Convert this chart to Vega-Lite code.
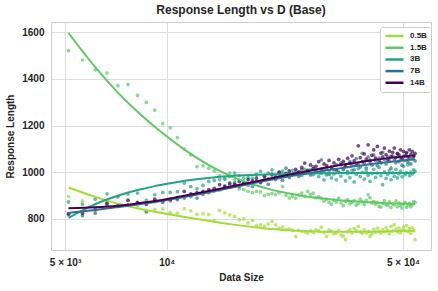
{
"$schema": "https://vega.github.io/schema/vega-lite/v6.json",
"width": 380, "height": 228,
"autosize": {"type": "none"},
"padding": {"left": 51, "top": 22, "right": 7, "bottom": 41},
"background": "white",
"title": {"text": "Response Length vs D (Base)", "fontSize": 12, "fontWeight": "bold", "font": "Liberation Sans", "color": "#262626", "offset": 5, "anchor": "middle", "frame": "group"},
"config": {
  "view": {"stroke": "#cccccc", "strokeWidth": 1},
  "font": "Liberation Sans",
  "axis": {"grid": true, "gridColor": "#dddddd", "gridWidth": 1, "domain": false, "ticks": false, "labelFont": "Liberation Sans", "labelFontSize": 10, "labelFontWeight": "bold", "labelColor": "#262626", "titleFont": "Liberation Sans", "titleFontSize": 10, "titleFontWeight": "bold", "titleColor": "#262626"}
},
"datasets": {
"pts": [
{"m":"0.5B","x":5120,"y":896},{"m":"0.5B","x":5632,"y":877},{"m":"0.5B","x":6144,"y":862},{"m":"0.5B","x":6656,"y":870},{"m":"0.5B","x":7168,"y":893},{"m":"0.5B","x":7680,"y":881},{"m":"0.5B","x":8192,"y":850},{"m":"0.5B","x":8704,"y":827},{"m":"0.5B","x":9216,"y":839},{"m":"0.5B","x":9728,"y":842},
{"m":"0.5B","x":10240,"y":827},{"m":"0.5B","x":10752,"y":824},{"m":"0.5B","x":11264,"y":843},{"m":"0.5B","x":11776,"y":834},{"m":"0.5B","x":12288,"y":819},{"m":"0.5B","x":12800,"y":822},{"m":"0.5B","x":13312,"y":818},{"m":"0.5B","x":13824,"y":793},{"m":"0.5B","x":14336,"y":836},{"m":"0.5B","x":14848,"y":825},
{"m":"0.5B","x":15360,"y":817},{"m":"0.5B","x":15872,"y":810},{"m":"0.5B","x":16384,"y":796},{"m":"0.5B","x":16896,"y":799},{"m":"0.5B","x":17408,"y":782},{"m":"0.5B","x":17920,"y":793},{"m":"0.5B","x":18432,"y":771},{"m":"0.5B","x":18944,"y":774},{"m":"0.5B","x":19456,"y":767},{"m":"0.5B","x":19968,"y":778},
{"m":"0.5B","x":20480,"y":788},{"m":"0.5B","x":20992,"y":774},{"m":"0.5B","x":21504,"y":760},{"m":"0.5B","x":22016,"y":765},{"m":"0.5B","x":22528,"y":753},{"m":"0.5B","x":23040,"y":756},{"m":"0.5B","x":23552,"y":750},{"m":"0.5B","x":24064,"y":724},{"m":"0.5B","x":24576,"y":750},{"m":"0.5B","x":25088,"y":746},
{"m":"0.5B","x":25600,"y":744},{"m":"0.5B","x":26112,"y":739},{"m":"0.5B","x":26624,"y":748},{"m":"0.5B","x":27136,"y":741},{"m":"0.5B","x":27648,"y":753},{"m":"0.5B","x":28160,"y":749},{"m":"0.5B","x":28672,"y":764},{"m":"0.5B","x":29184,"y":742},{"m":"0.5B","x":29696,"y":724},{"m":"0.5B","x":30208,"y":752},
{"m":"0.5B","x":30720,"y":746},{"m":"0.5B","x":31232,"y":735},{"m":"0.5B","x":31744,"y":739},{"m":"0.5B","x":32256,"y":750},{"m":"0.5B","x":32768,"y":731},{"m":"0.5B","x":33280,"y":724},{"m":"0.5B","x":33792,"y":710},{"m":"0.5B","x":34304,"y":745},{"m":"0.5B","x":34816,"y":753},{"m":"0.5B","x":35328,"y":740},
{"m":"0.5B","x":35840,"y":758},{"m":"0.5B","x":36352,"y":748},{"m":"0.5B","x":36864,"y":767},{"m":"0.5B","x":37376,"y":744},{"m":"0.5B","x":37888,"y":738},{"m":"0.5B","x":38400,"y":752},{"m":"0.5B","x":38912,"y":739},{"m":"0.5B","x":39424,"y":746},{"m":"0.5B","x":39936,"y":724},{"m":"0.5B","x":40448,"y":735},
{"m":"0.5B","x":40960,"y":755},{"m":"0.5B","x":41472,"y":742},{"m":"0.5B","x":41984,"y":760},{"m":"0.5B","x":42496,"y":747},{"m":"0.5B","x":43008,"y":739},{"m":"0.5B","x":43520,"y":753},{"m":"0.5B","x":44032,"y":744},{"m":"0.5B","x":44544,"y":762},{"m":"0.5B","x":45056,"y":750},{"m":"0.5B","x":45568,"y":736},
{"m":"0.5B","x":46080,"y":767},{"m":"0.5B","x":46592,"y":748},{"m":"0.5B","x":47104,"y":774},{"m":"0.5B","x":47616,"y":756},{"m":"0.5B","x":48128,"y":745},{"m":"0.5B","x":48640,"y":760},{"m":"0.5B","x":49152,"y":740},{"m":"0.5B","x":49664,"y":752},{"m":"0.5B","x":50176,"y":764},{"m":"0.5B","x":50688,"y":749},
{"m":"0.5B","x":51200,"y":771},{"m":"0.5B","x":51712,"y":745},{"m":"0.5B","x":52224,"y":758},{"m":"0.5B","x":52736,"y":738},{"m":"0.5B","x":53248,"y":762},{"m":"0.5B","x":53760,"y":750},{"m":"0.5B","x":54272,"y":710},

{"m":"1.5B","x":5120,"y":1521},{"m":"1.5B","x":5632,"y":1481},{"m":"1.5B","x":6144,"y":1439},{"m":"1.5B","x":6656,"y":1425},{"m":"1.5B","x":7168,"y":1371},{"m":"1.5B","x":7680,"y":1376},{"m":"1.5B","x":8192,"y":1329},{"m":"1.5B","x":8704,"y":1300},{"m":"1.5B","x":9216,"y":1266},{"m":"1.5B","x":9728,"y":1208},
{"m":"1.5B","x":10240,"y":1190},{"m":"1.5B","x":10752,"y":1148},{"m":"1.5B","x":11264,"y":1099},{"m":"1.5B","x":11776,"y":1075},{"m":"1.5B","x":12288,"y":1024},{"m":"1.5B","x":12800,"y":1027},{"m":"1.5B","x":13312,"y":1017},{"m":"1.5B","x":13824,"y":1005},{"m":"1.5B","x":14336,"y":985},{"m":"1.5B","x":14848,"y":975},
{"m":"1.5B","x":15360,"y":996},{"m":"1.5B","x":15872,"y":965},{"m":"1.5B","x":16384,"y":928},{"m":"1.5B","x":16896,"y":925},{"m":"1.5B","x":17408,"y":918},{"m":"1.5B","x":17920,"y":912},{"m":"1.5B","x":18432,"y":917},{"m":"1.5B","x":18944,"y":915},{"m":"1.5B","x":19456,"y":899},{"m":"1.5B","x":19968,"y":905},
{"m":"1.5B","x":20480,"y":908},{"m":"1.5B","x":20992,"y":903},{"m":"1.5B","x":21504,"y":912},{"m":"1.5B","x":22016,"y":938},{"m":"1.5B","x":22528,"y":900},{"m":"1.5B","x":23040,"y":889},{"m":"1.5B","x":23552,"y":895},{"m":"1.5B","x":24064,"y":889},{"m":"1.5B","x":24576,"y":902},{"m":"1.5B","x":25088,"y":910},
{"m":"1.5B","x":25600,"y":897},{"m":"1.5B","x":26112,"y":917},{"m":"1.5B","x":26624,"y":905},{"m":"1.5B","x":27136,"y":910},{"m":"1.5B","x":27648,"y":890},{"m":"1.5B","x":28160,"y":895},{"m":"1.5B","x":28672,"y":889},{"m":"1.5B","x":29184,"y":876},{"m":"1.5B","x":29696,"y":884},{"m":"1.5B","x":30208,"y":870},
{"m":"1.5B","x":30720,"y":862},{"m":"1.5B","x":31232,"y":880},{"m":"1.5B","x":31744,"y":872},{"m":"1.5B","x":32256,"y":889},{"m":"1.5B","x":32768,"y":868},{"m":"1.5B","x":33280,"y":856},{"m":"1.5B","x":33792,"y":875},{"m":"1.5B","x":34304,"y":882},{"m":"1.5B","x":34816,"y":864},{"m":"1.5B","x":35328,"y":870},
{"m":"1.5B","x":35840,"y":878},{"m":"1.5B","x":36352,"y":858},{"m":"1.5B","x":36864,"y":866},{"m":"1.5B","x":37376,"y":884},{"m":"1.5B","x":37888,"y":872},{"m":"1.5B","x":38400,"y":861},{"m":"1.5B","x":38912,"y":879},{"m":"1.5B","x":39424,"y":903},{"m":"1.5B","x":39936,"y":890},{"m":"1.5B","x":40448,"y":868},
{"m":"1.5B","x":40960,"y":875},{"m":"1.5B","x":41472,"y":862},{"m":"1.5B","x":41984,"y":870},{"m":"1.5B","x":42496,"y":853},{"m":"1.5B","x":43008,"y":850},{"m":"1.5B","x":43520,"y":866},{"m":"1.5B","x":44032,"y":878},{"m":"1.5B","x":44544,"y":861},{"m":"1.5B","x":45056,"y":857},{"m":"1.5B","x":45568,"y":872},
{"m":"1.5B","x":46080,"y":848},{"m":"1.5B","x":46592,"y":864},{"m":"1.5B","x":47104,"y":860},{"m":"1.5B","x":47616,"y":877},{"m":"1.5B","x":48128,"y":852},{"m":"1.5B","x":48640,"y":868},{"m":"1.5B","x":49152,"y":856},{"m":"1.5B","x":49664,"y":846},{"m":"1.5B","x":50176,"y":862},{"m":"1.5B","x":50688,"y":870},
{"m":"1.5B","x":51200,"y":849},{"m":"1.5B","x":51712,"y":858},{"m":"1.5B","x":52224,"y":866},{"m":"1.5B","x":52736,"y":852},{"m":"1.5B","x":53248,"y":861},{"m":"1.5B","x":53760,"y":874},{"m":"1.5B","x":54272,"y":870},

{"m":"3B","x":5120,"y":872},{"m":"3B","x":5632,"y":863},{"m":"3B","x":6144,"y":884},{"m":"3B","x":6656,"y":907},{"m":"3B","x":7168,"y":896},{"m":"3B","x":7680,"y":906},{"m":"3B","x":8192,"y":910},{"m":"3B","x":8704,"y":880},{"m":"3B","x":9216,"y":903},{"m":"3B","x":9728,"y":913},
{"m":"3B","x":10240,"y":913},{"m":"3B","x":10752,"y":916},{"m":"3B","x":11264,"y":953},{"m":"3B","x":11776,"y":938},{"m":"3B","x":12288,"y":929},{"m":"3B","x":12800,"y":943},{"m":"3B","x":13312,"y":960},{"m":"3B","x":13824,"y":965},{"m":"3B","x":14336,"y":968},{"m":"3B","x":14848,"y":970},
{"m":"3B","x":15360,"y":981},{"m":"3B","x":15872,"y":996},{"m":"3B","x":16384,"y":985},{"m":"3B","x":16896,"y":974},{"m":"3B","x":17408,"y":978},{"m":"3B","x":17920,"y":974},{"m":"3B","x":18432,"y":992},{"m":"3B","x":18944,"y":1003},{"m":"3B","x":19456,"y":985},{"m":"3B","x":19968,"y":996},
{"m":"3B","x":20480,"y":1010},{"m":"3B","x":20992,"y":981},{"m":"3B","x":21504,"y":999},{"m":"3B","x":22016,"y":1004},{"m":"3B","x":22528,"y":988},{"m":"3B","x":23040,"y":995},{"m":"3B","x":23552,"y":1008},{"m":"3B","x":24064,"y":992},{"m":"3B","x":24576,"y":1001},{"m":"3B","x":25088,"y":986},
{"m":"3B","x":25600,"y":1012},{"m":"3B","x":26112,"y":997},{"m":"3B","x":26624,"y":1011},{"m":"3B","x":27136,"y":990},{"m":"3B","x":27648,"y":1003},{"m":"3B","x":28160,"y":981},{"m":"3B","x":28672,"y":995},{"m":"3B","x":29184,"y":967},{"m":"3B","x":29696,"y":988},{"m":"3B","x":30208,"y":1005},
{"m":"3B","x":30720,"y":975},{"m":"3B","x":31232,"y":992},{"m":"3B","x":31744,"y":967},{"m":"3B","x":32256,"y":1000},{"m":"3B","x":32768,"y":983},{"m":"3B","x":33280,"y":1010},{"m":"3B","x":33792,"y":962},{"m":"3B","x":34304,"y":994},{"m":"3B","x":34816,"y":976},{"m":"3B","x":35328,"y":1008},
{"m":"3B","x":35840,"y":958},{"m":"3B","x":36352,"y":990},{"m":"3B","x":36864,"y":1015},{"m":"3B","x":37376,"y":981},{"m":"3B","x":37888,"y":999},{"m":"3B","x":38400,"y":970},{"m":"3B","x":38912,"y":1005},{"m":"3B","x":39424,"y":987},{"m":"3B","x":39936,"y":960},{"m":"3B","x":40448,"y":994},
{"m":"3B","x":40960,"y":1012},{"m":"3B","x":41472,"y":978},{"m":"3B","x":41984,"y":996},{"m":"3B","x":42496,"y":1020},{"m":"3B","x":43008,"y":984},{"m":"3B","x":43520,"y":946},{"m":"3B","x":44032,"y":1001},{"m":"3B","x":44544,"y":973},{"m":"3B","x":45056,"y":990},{"m":"3B","x":45568,"y":1008},
{"m":"3B","x":46080,"y":967},{"m":"3B","x":46592,"y":997},{"m":"3B","x":47104,"y":982},{"m":"3B","x":47616,"y":1012},{"m":"3B","x":48128,"y":975},{"m":"3B","x":48640,"y":993},{"m":"3B","x":49152,"y":1004},{"m":"3B","x":49664,"y":980},{"m":"3B","x":50176,"y":1025},{"m":"3B","x":50688,"y":989},
{"m":"3B","x":51200,"y":998},{"m":"3B","x":51712,"y":1031},{"m":"3B","x":52224,"y":985},{"m":"3B","x":52736,"y":1000},{"m":"3B","x":53248,"y":992},{"m":"3B","x":53760,"y":1010},{"m":"3B","x":54272,"y":1003},

{"m":"7B","x":5120,"y":817},{"m":"7B","x":5632,"y":813},{"m":"7B","x":6144,"y":824},{"m":"7B","x":6656,"y":858},{"m":"7B","x":7168,"y":853},{"m":"7B","x":7680,"y":860},{"m":"7B","x":8192,"y":866},{"m":"7B","x":8704,"y":831},{"m":"7B","x":9216,"y":874},{"m":"7B","x":9728,"y":870},
{"m":"7B","x":10240,"y":877},{"m":"7B","x":10752,"y":882},{"m":"7B","x":11264,"y":889},{"m":"7B","x":11776,"y":895},{"m":"7B","x":12288,"y":889},{"m":"7B","x":12800,"y":905},{"m":"7B","x":13312,"y":912},{"m":"7B","x":13824,"y":920},{"m":"7B","x":14336,"y":924},{"m":"7B","x":14848,"y":938},
{"m":"7B","x":15360,"y":945},{"m":"7B","x":15872,"y":953},{"m":"7B","x":16384,"y":938},{"m":"7B","x":16896,"y":950},{"m":"7B","x":17408,"y":945},{"m":"7B","x":17920,"y":938},{"m":"7B","x":18432,"y":962},{"m":"7B","x":18944,"y":955},{"m":"7B","x":19456,"y":970},{"m":"7B","x":19968,"y":948},
{"m":"7B","x":20480,"y":975},{"m":"7B","x":20992,"y":968},{"m":"7B","x":21504,"y":990},{"m":"7B","x":22016,"y":965},{"m":"7B","x":22528,"y":1017},{"m":"7B","x":23040,"y":976},{"m":"7B","x":23552,"y":992},{"m":"7B","x":24064,"y":1000},{"m":"7B","x":24576,"y":982},{"m":"7B","x":25088,"y":1010},
{"m":"7B","x":25600,"y":995},{"m":"7B","x":26112,"y":1003},{"m":"7B","x":26624,"y":988},{"m":"7B","x":27136,"y":1024},{"m":"7B","x":27648,"y":1010},{"m":"7B","x":28160,"y":998},{"m":"7B","x":28672,"y":1053},{"m":"7B","x":29184,"y":1005},{"m":"7B","x":29696,"y":1015},{"m":"7B","x":30208,"y":990},
{"m":"7B","x":30720,"y":1022},{"m":"7B","x":31232,"y":1010},{"m":"7B","x":31744,"y":1031},{"m":"7B","x":32256,"y":998},{"m":"7B","x":32768,"y":1040},{"m":"7B","x":33280,"y":1015},{"m":"7B","x":33792,"y":1025},{"m":"7B","x":34304,"y":1002},{"m":"7B","x":34816,"y":1045},{"m":"7B","x":35328,"y":1030},
{"m":"7B","x":35840,"y":1010},{"m":"7B","x":36352,"y":1058},{"m":"7B","x":36864,"y":1035},{"m":"7B","x":37376,"y":1022},{"m":"7B","x":37888,"y":1081},{"m":"7B","x":38400,"y":1040},{"m":"7B","x":38912,"y":1018},{"m":"7B","x":39424,"y":1065},{"m":"7B","x":39936,"y":1045},{"m":"7B","x":40448,"y":1030},
{"m":"7B","x":40960,"y":1074},{"m":"7B","x":41472,"y":1050},{"m":"7B","x":41984,"y":1028},{"m":"7B","x":42496,"y":1060},{"m":"7B","x":43008,"y":1040},{"m":"7B","x":43520,"y":1085},{"m":"7B","x":44032,"y":1055},{"m":"7B","x":44544,"y":1035},{"m":"7B","x":45056,"y":1066},{"m":"7B","x":45568,"y":1048},
{"m":"7B","x":46080,"y":1017},{"m":"7B","x":46592,"y":1070},{"m":"7B","x":47104,"y":1052},{"m":"7B","x":47616,"y":1040},{"m":"7B","x":48128,"y":1078},{"m":"7B","x":48640,"y":1045},{"m":"7B","x":49152,"y":1060},{"m":"7B","x":49664,"y":1030},{"m":"7B","x":50176,"y":1068},{"m":"7B","x":50688,"y":1050},
{"m":"7B","x":51200,"y":1085},{"m":"7B","x":51712,"y":1042},{"m":"7B","x":52224,"y":1062},{"m":"7B","x":52736,"y":1035},{"m":"7B","x":53248,"y":1058},{"m":"7B","x":53760,"y":1072},{"m":"7B","x":54272,"y":1048},

{"m":"14B","x":5120,"y":822},{"m":"14B","x":5632,"y":824},{"m":"14B","x":6144,"y":839},{"m":"14B","x":6656,"y":867},{"m":"14B","x":7168,"y":856},{"m":"14B","x":7680,"y":879},{"m":"14B","x":8192,"y":870},{"m":"14B","x":8704,"y":862},{"m":"14B","x":9216,"y":884},{"m":"14B","x":9728,"y":878},
{"m":"14B","x":10240,"y":884},{"m":"14B","x":10752,"y":890},{"m":"14B","x":11264,"y":917},{"m":"14B","x":11776,"y":907},{"m":"14B","x":12288,"y":912},{"m":"14B","x":12800,"y":917},{"m":"14B","x":13312,"y":925},{"m":"14B","x":13824,"y":930},{"m":"14B","x":14336,"y":946},{"m":"14B","x":14848,"y":940},
{"m":"14B","x":15360,"y":953},{"m":"14B","x":15872,"y":948},{"m":"14B","x":16384,"y":960},{"m":"14B","x":16896,"y":955},{"m":"14B","x":17408,"y":968},{"m":"14B","x":17920,"y":962},{"m":"14B","x":18432,"y":975},{"m":"14B","x":18944,"y":958},{"m":"14B","x":19456,"y":982},{"m":"14B","x":19968,"y":970},
{"m":"14B","x":20480,"y":990},{"m":"14B","x":20992,"y":978},{"m":"14B","x":21504,"y":1000},{"m":"14B","x":22016,"y":985},{"m":"14B","x":22528,"y":995},{"m":"14B","x":23040,"y":1005},{"m":"14B","x":23552,"y":990},{"m":"14B","x":24064,"y":1012},{"m":"14B","x":24576,"y":1000},{"m":"14B","x":25088,"y":1020},
{"m":"14B","x":25600,"y":1039},{"m":"14B","x":26112,"y":1008},{"m":"14B","x":26624,"y":1031},{"m":"14B","x":27136,"y":1015},{"m":"14B","x":27648,"y":1025},{"m":"14B","x":28160,"y":1045},{"m":"14B","x":28672,"y":1012},{"m":"14B","x":29184,"y":1035},{"m":"14B","x":29696,"y":1028},{"m":"14B","x":30208,"y":1050},
{"m":"14B","x":30720,"y":1018},{"m":"14B","x":31232,"y":1040},{"m":"14B","x":31744,"y":1010},{"m":"14B","x":32256,"y":1055},{"m":"14B","x":32768,"y":1032},{"m":"14B","x":33280,"y":1046},{"m":"14B","x":33792,"y":1025},{"m":"14B","x":34304,"y":1060},{"m":"14B","x":34816,"y":1038},{"m":"14B","x":35328,"y":1070},
{"m":"14B","x":35840,"y":1048},{"m":"14B","x":36352,"y":1030},{"m":"14B","x":36864,"y":1113},{"m":"14B","x":37376,"y":1062},{"m":"14B","x":37888,"y":1045},{"m":"14B","x":38400,"y":1078},{"m":"14B","x":38912,"y":1056},{"m":"14B","x":39424,"y":1117},{"m":"14B","x":39936,"y":1050},{"m":"14B","x":40448,"y":1072},
{"m":"14B","x":40960,"y":1095},{"m":"14B","x":41472,"y":1060},{"m":"14B","x":41984,"y":1110},{"m":"14B","x":42496,"y":1048},{"m":"14B","x":43008,"y":1082},{"m":"14B","x":43520,"y":1066},{"m":"14B","x":44032,"y":1103},{"m":"14B","x":44544,"y":1075},{"m":"14B","x":45056,"y":1055},{"m":"14B","x":45568,"y":1090},
{"m":"14B","x":46080,"y":1068},{"m":"14B","x":46592,"y":1085},{"m":"14B","x":47104,"y":1103},{"m":"14B","x":47616,"y":1062},{"m":"14B","x":48128,"y":1080},{"m":"14B","x":48640,"y":1074},{"m":"14B","x":49152,"y":1096},{"m":"14B","x":49664,"y":1058},{"m":"14B","x":50176,"y":1089},{"m":"14B","x":50688,"y":1070},
{"m":"14B","x":51200,"y":1082},{"m":"14B","x":51712,"y":1065},{"m":"14B","x":52224,"y":1096},{"m":"14B","x":52736,"y":1076},{"m":"14B","x":53248,"y":1089},{"m":"14B","x":53760,"y":1068},{"m":"14B","x":54272,"y":1080}
],
"fit": [
{"m":"0.5B","x":5120,"y":934},{"m":"0.5B","x":6144,"y":894},{"m":"0.5B","x":7168,"y":865},{"m":"0.5B","x":8192,"y":845},{"m":"0.5B","x":9216,"y":830},{"m":"0.5B","x":10240,"y":818},{"m":"0.5B","x":11776,"y":803},{"m":"0.5B","x":13312,"y":791},{"m":"0.5B","x":15360,"y":777},{"m":"0.5B","x":17920,"y":765},{"m":"0.5B","x":20480,"y":756},{"m":"0.5B","x":23552,"y":750},{"m":"0.5B","x":27136,"y":746},{"m":"0.5B","x":30720,"y":744},{"m":"0.5B","x":34816,"y":744},{"m":"0.5B","x":39424,"y":744},{"m":"0.5B","x":44544,"y":745.5},{"m":"0.5B","x":49152,"y":747},{"m":"0.5B","x":54272,"y":749},
{"m":"1.5B","x":5120,"y":1597},{"m":"1.5B","x":6144,"y":1450},{"m":"1.5B","x":7168,"y":1341},{"m":"1.5B","x":8192,"y":1259},{"m":"1.5B","x":9216,"y":1195},{"m":"1.5B","x":10240,"y":1142},{"m":"1.5B","x":11776,"y":1078},{"m":"1.5B","x":13312,"y":1030},{"m":"1.5B","x":15360,"y":985},{"m":"1.5B","x":17920,"y":948},{"m":"1.5B","x":20480,"y":924},{"m":"1.5B","x":23552,"y":906},{"m":"1.5B","x":27136,"y":891},{"m":"1.5B","x":30720,"y":883},{"m":"1.5B","x":34816,"y":876},{"m":"1.5B","x":39424,"y":871},{"m":"1.5B","x":44544,"y":867},{"m":"1.5B","x":49152,"y":865},{"m":"1.5B","x":54272,"y":863},
{"m":"3B","x":5120,"y":804},{"m":"3B","x":6144,"y":863},{"m":"3B","x":7168,"y":899},{"m":"3B","x":8192,"y":923},{"m":"3B","x":9216,"y":940},{"m":"3B","x":10240,"y":952},{"m":"3B","x":11776,"y":966},{"m":"3B","x":13312,"y":975},{"m":"3B","x":15360,"y":983},{"m":"3B","x":17920,"y":988},{"m":"3B","x":20480,"y":991},{"m":"3B","x":23552,"y":993},{"m":"3B","x":27136,"y":994.6},{"m":"3B","x":30720,"y":995.5},{"m":"3B","x":34816,"y":996},{"m":"3B","x":39424,"y":996},{"m":"3B","x":44544,"y":996},{"m":"3B","x":49152,"y":996},{"m":"3B","x":54272,"y":996},
{"m":"7B","x":5120,"y":825},{"m":"7B","x":6144,"y":838},{"m":"7B","x":7168,"y":850},{"m":"7B","x":8192,"y":861},{"m":"7B","x":9216,"y":872},{"m":"7B","x":10240,"y":883},{"m":"7B","x":11776,"y":899},{"m":"7B","x":13312,"y":914},{"m":"7B","x":15360,"y":932},{"m":"7B","x":17920,"y":952},{"m":"7B","x":20480,"y":968},{"m":"7B","x":23552,"y":984},{"m":"7B","x":27136,"y":999},{"m":"7B","x":30720,"y":1011},{"m":"7B","x":34816,"y":1022},{"m":"7B","x":39424,"y":1033},{"m":"7B","x":44544,"y":1042},{"m":"7B","x":49152,"y":1049},{"m":"7B","x":54272,"y":1055},
{"m":"14B","x":5120,"y":845},{"m":"14B","x":6144,"y":849},{"m":"14B","x":7168,"y":856},{"m":"14B","x":8192,"y":866},{"m":"14B","x":9216,"y":876},{"m":"14B","x":10240,"y":887},{"m":"14B","x":11776,"y":904},{"m":"14B","x":13312,"y":919},{"m":"14B","x":15360,"y":937},{"m":"14B","x":17920,"y":957},{"m":"14B","x":20480,"y":974},{"m":"14B","x":23552,"y":992},{"m":"14B","x":27136,"y":1009},{"m":"14B","x":30720,"y":1024},{"m":"14B","x":34816,"y":1037},{"m":"14B","x":39424,"y":1049},{"m":"14B","x":44544,"y":1059},{"m":"14B","x":49152,"y":1066},{"m":"14B","x":54272,"y":1072}
]
},
"layer": [
{
  "data": {"name": "pts"},
  "mark": {"type": "circle", "size": 14, "opacity": 0.7},
  "encoding": {
    "x": {"field": "x", "type": "quantitative", "scale": {"type": "log", "domain": [4545, 60500], "nice": false}, "axis": {"values": [5000, 10000, 50000], "labelExpr": "datum.value == 5000 ? '5 × 10³' : (datum.value == 10000 ? '10⁴' : '5 × 10⁴')", "title": "Data Size", "labelPadding": 7, "titlePadding": 5}},
    "y": {"field": "y", "type": "quantitative", "scale": {"domain": [666, 1644], "nice": false, "zero": false}, "axis": {"values": [800, 1000, 1200, 1400, 1600], "format": "d", "title": "Response Length", "labelPadding": 7, "titlePadding": 6}},
    "color": {"field": "m", "type": "nominal", "scale": {"domain": ["0.5B", "1.5B", "3B", "7B", "14B"], "range": ["#a5db36", "#5ec962", "#21a585", "#2c718e", "#440154"]}, "legend": null}
  }
},
{
  "data": {"name": "fit"},
  "mark": {"type": "line", "strokeWidth": 2, "interpolate": "monotone"},
  "encoding": {
    "x": {"field": "x", "type": "quantitative"},
    "y": {"field": "y", "type": "quantitative"},
    "color": {"field": "m", "type": "nominal", "sort": ["0.5B", "1.5B", "3B", "7B", "14B"], "legend": {"title": null, "orient": "none", "legendX": 329, "legendY": 5, "symbolType": "stroke", "symbolSize": 324, "symbolStrokeWidth": 2.5, "labelFontSize": 8, "labelFontWeight": "bold", "labelFont": "Liberation Sans", "labelColor": "#262626", "padding": 4, "strokeColor": "#cccccc", "fillColor": "white", "cornerRadius": 2, "clipHeight": 10, "rowPadding": 1.7, "labelOffset": 5}}
  }
}
],
"resolve": {"legend": {"color": "independent"}}
}
